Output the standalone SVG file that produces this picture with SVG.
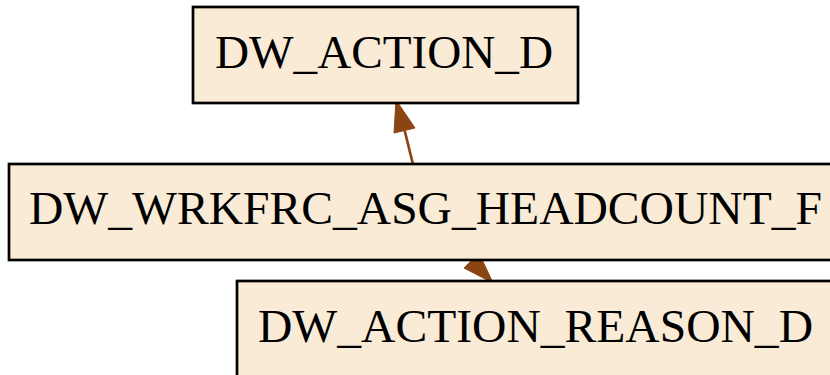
<svg xmlns="http://www.w3.org/2000/svg" width="830" height="375" viewBox="0 0 830 375">
<style>
.node rect{fill:#faebd7;stroke:#000;stroke-width:2.7}
.node text{font-family:"Liberation Serif","Times New Roman",serif;font-size:46.5px;fill:#000;text-anchor:start}
.edge line{stroke:#8b4513;stroke-width:2.7}
.edge polygon{fill:#8b4513;stroke:#8b4513;stroke-width:1}
</style>
<rect width="830" height="375" fill="#fff"/>
<g id="connectors" class="edge">
<line x1="412.7" y1="163" x2="404.5" y2="130"/>
<polygon points="396,100 394,133 415,128"/>
<polygon points="493,283 479,253 464,268"/>
</g>
<g id="DW_ACTION_D" class="node">
<rect x="193" y="7" width="385" height="96"/>
<text x="215" y="67.5" textLength="338" lengthAdjust="spacingAndGlyphs">DW_ACTION_D</text>
</g>
<g id="DW_WRKFRC_ASG_HEADCOUNT_F" class="node">
<rect x="9" y="164" width="860" height="96"/>
<text x="29" y="223.5" textLength="793" lengthAdjust="spacingAndGlyphs">DW_WRKFRC_ASG_HEADCOUNT_F</text>
</g>
<g id="DW_ACTION_REASON_D" class="node">
<rect x="237" y="281" width="640" height="140"/>
<text x="258" y="341.5" textLength="555" lengthAdjust="spacingAndGlyphs">DW_ACTION_REASON_D</text>
</g>
</svg>
